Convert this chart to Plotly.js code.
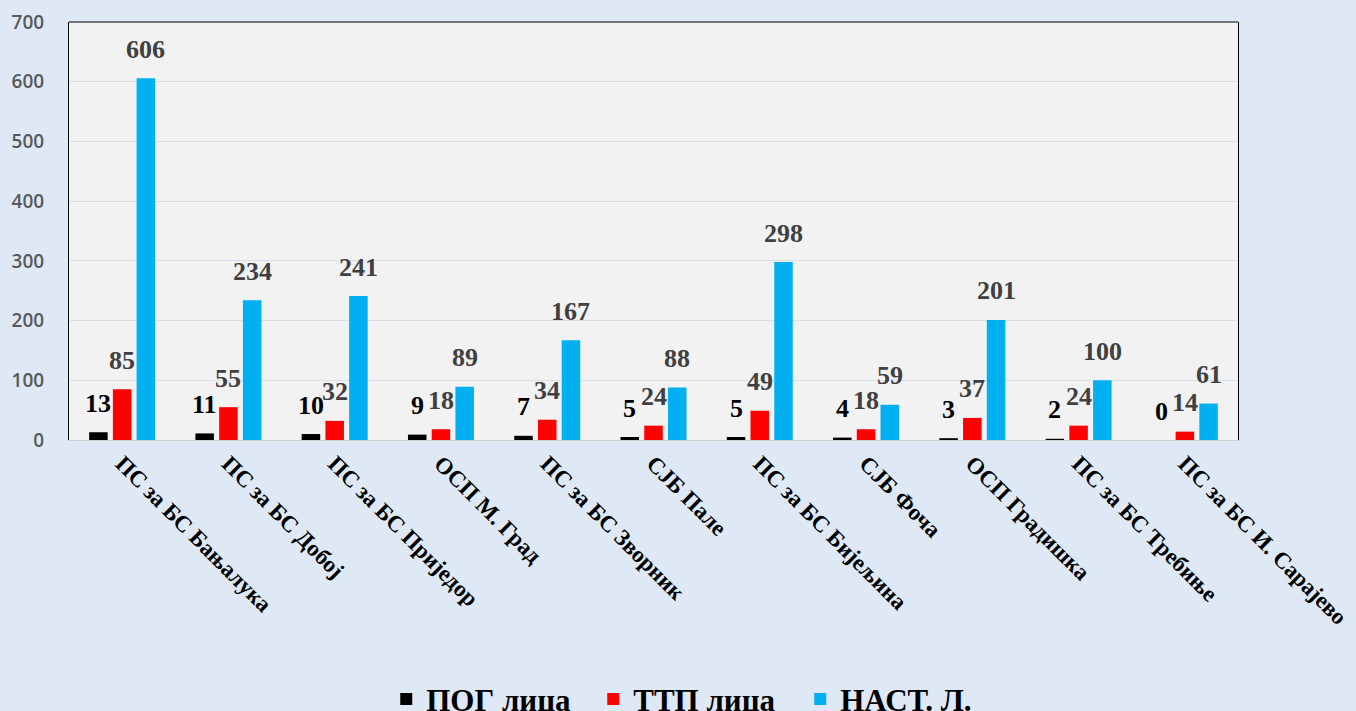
<!DOCTYPE html>
<html><head><meta charset="utf-8">
<script src="https://cdn.plot.ly/plotly-3.0.1.min.js"></script>
<style>html,body{margin:0;padding:0;background:#dee9f5;}</style>
</head><body><div id="chart" style="width:1356px;height:711px;"></div>
<script>
const categories = ['ПС за БС Бањалука','ПС за БС Добој','ПС за БС Приједор','ОСП М. Град','ПС за БС Зворник','СЈБ Пале','ПС за БС Бијељина','СЈБ Фоча','ОСП Градишка','ПС за БС Требиње','ПС за БС И. Сарајево'];
const pogLica = [13,11,10,9,7,5,5,4,3,2,0];
const ttpLica = [85,55,32,18,34,24,49,18,37,24,14];
const nastL = [606,234,241,89,167,88,298,59,201,100,61];
const seriesNames = ['ПОГ лица','ТТП лица','НАСТ. Л.'];
const yTicks = [0,100,200,300,400,500,600,700];

const seriesValues = [pogLica, ttpLica, nastL];
const seriesColors = ['#000000','#ff0000','#00b0f0'];
const labelColors = ['#000000','#404040','#404040'];
const BARGAP = 0.33, GROUPGAP = 0.22;
const slot = (1 - BARGAP) / 3;

const traces = seriesValues.map((vals, k) => ({
  type: 'bar', x: categories, y: vals, name: seriesNames[k],
  marker: {color: seriesColors[k]}, hoverinfo: 'x+y'
}));

const annotations = [];
seriesValues.forEach((vals, k) => {
  vals.forEach((v, i) => {
    annotations.push({
      x: i + (k - 1) * slot, y: v, xref: 'x', yref: 'y',
      text: String(v), showarrow: false, yshift: 29, yanchor: 'middle', xanchor: 'center',
      font: {family: 'Liberation Serif, Times New Roman, serif', size: 26, weight: 'bold', color: labelColors[k]}
    });
  });
});

const layout = {
  width: 1356, height: 711,
  paper_bgcolor: '#dee9f5', plot_bgcolor: '#f2f2f2',
  margin: {l: 69, r: 118, t: 22, b: 271, autoexpand: false},
  barmode: 'group', bargap: BARGAP, bargroupgap: GROUPGAP,
  showlegend: true,
  legend: {orientation: 'h', x: 0.537, xanchor: 'center', y: -0.556, yanchor: 'top',
    bgcolor: 'rgba(0,0,0,0)', entrywidth: 162,
    font: {family: 'Liberation Serif, Times New Roman, serif', size: 31, weight: 'bold', color: '#000'}},
  xaxis: {type: 'category', tickangle: 45, showgrid: false, showline: true, linecolor: '#d0d0d0', linewidth: 1,
    ticks: '', fixedrange: true,
    tickfont: {family: 'Liberation Serif, Times New Roman, serif', size: 23, weight: 'bold', color: '#000'}},
  yaxis: {range: [0, 700], tickvals: yTicks, ticktext: yTicks.map(String), gridcolor: '#d6dfea', gridwidth: 1,
    showline: true, mirror: true, linecolor: '#000', linewidth: 1, zeroline: false, ticks: '',
    ticklabelstandoff: 20, fixedrange: true,
    tickfont: {family: 'Open Sans, sans-serif', size: 19, weight: 600, color: '#595959'}},
  shapes: [{type: 'line', xref: 'paper', yref: 'paper', x0: 0, x1: 1, y0: 1, y1: 1, line: {color: '#000', width: 1}}],
  annotations: annotations
};
Plotly.newPlot('chart', traces, layout, {displayModeBar: false, staticPlot: true});
</script></body></html>
